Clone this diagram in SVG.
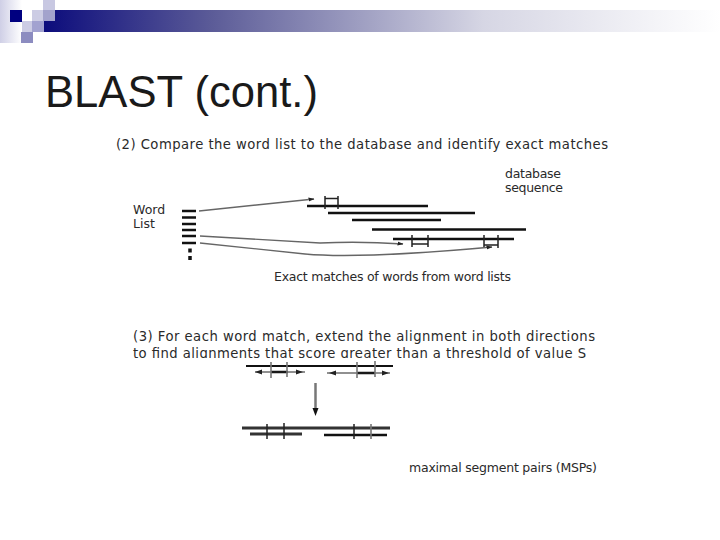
<svg xmlns="http://www.w3.org/2000/svg" width="720" height="540" viewBox="0 0 720 540">
<style>
text{font-family:"DejaVu Sans","Liberation Sans",sans-serif;font-size:12.5px;fill:#2a2a2a}
.l{font-size:13.2px}
.k{stroke:#111;stroke-width:2.5;fill:none}
.t{stroke:#222;stroke-width:1.5;fill:none}
.a{stroke:#666;stroke-width:1.4;fill:none}
.g{stroke:#777;stroke-width:1.6;fill:none}
</style>
<defs>
<linearGradient id="bar" x1="0" x2="1" y1="0" y2="0"><stop offset="0" stop-color="#0c0c7c"/><stop offset=".25" stop-color="#5c5c98"/><stop offset=".65" stop-color="#d6d6e4"/><stop offset="1" stop-color="#fff"/></linearGradient>
<linearGradient id="side" x1="0" x2="1" y1="0" y2="0"><stop offset="0" stop-color="#cfcfe6"/><stop offset="1" stop-color="#fff"/></linearGradient>
<marker id="ah" markerUnits="userSpaceOnUse" markerWidth="6" markerHeight="5" refX="5.500" refY="2.500" orient="auto"><path d="M0 0.500L6 2.500L0 4.500z" fill="#222"/></marker>
</defs>
<rect width="720" height="540" fill="#fff"/>
<g id="decor">
<rect x="44" y="10" width="676" height="22" fill="url(#bar)"/>
<rect x="0" y="0" width="22" height="43" fill="url(#side)"/>
<rect x="10" y="10" width="12" height="12" fill="#000080"/>
<rect x="43" y="0" width="12" height="10" fill="#c8c8e2"/>
<rect x="32" y="10" width="11" height="11" fill="#ccccE4"/>
<rect x="43" y="10" width="12" height="11" fill="#a2a2cc"/>
<rect x="22" y="21" width="10" height="11" fill="#ccccE4"/>
<rect x="32" y="21" width="12" height="11" fill="#a2a2d0"/>
<rect x="21" y="32" width="12" height="11" fill="#8c8cc0"/>
</g>
<text id="title" x="45" y="107" style="font-family:'Liberation Sans',sans-serif;font-size:43.6px;fill:#1a1a1a">BLAST (cont.)</text>
<text class="l" x="116" y="149" textLength="492">(2) Compare the word list to the database and identify exact matches</text>
<text x="505" y="178" textLength="56">database</text>
<text x="505" y="192" textLength="58">sequence</text>
<text x="133" y="214">Word</text>
<text x="133" y="228">List</text>
<text x="274" y="281" textLength="237">Exact matches of words from word lists</text>
<text class="l" x="133" y="341" textLength="462">(3) For each word match, extend the alignment in both directions</text>
<text class="l" x="133" y="358" textLength="453">to find alignments that score greater than a threshold of value S</text>
<rect x="130" y="358" width="470" height="8" fill="#fff"/>
<text x="409" y="472" textLength="188">maximal segment pairs (MSPs)</text>
<g id="word-list" class="k">
<path d="M182 211H196M182 217.500H196M182 224H196M182 230H196M182 236H196M182 243H196"/>
<path d="M190 248.500V252.500M190 256V260" style="stroke-width:3.500"/>
</g>
<g id="database">
<path class="k" d="M307 206H428M328 213H475M352 220H441M372 229.500H526M393 239H514"/>
<path class="t" d="M325 196V209M338 196V209M325 198.500H338M412 235V247M428 235V247M412 244H428M484 235V248M498 235V248M484 245H498"/>
</g>
<g id="connectors">
<path class="a" d="M199 211L314 199" marker-end="url(#ah)"/>
<path class="a" d="M200 236L320 243Q360 241 403 244" marker-end="url(#ah)"/>
<path class="a" d="M200 243L305 254Q360 259 492 247" marker-end="url(#ah)"/>
<path class="g" style="stroke-width:2.500" d="M315.500 383V409"/>
<path d="M312.500 408H318.500L315.500 416z" fill="#111"/>
</g>
<g id="extension">
<path class="k" style="stroke-width:2" d="M246 366H393"/>
<path class="k" d="M271 372H288M357 373H375"/>
<path class="t" style="stroke-width:1.100" d="M255 372H305M327 373H390"/>
<path d="M255 372L262 369.500V374.500zM303 372L296 369.500V374.500zM329 373L336 370.500V375.500zM389 373L382 370.500V375.500z" fill="#222"/>
<path class="g" d="M271 362V378M287 362V377M375 361V377M357 362V378"/>
</g>
<g id="msps">
<path class="k" style="stroke:#333;stroke-width:3" d="M242 428H390"/>
<path class="k" style="stroke:#333;stroke-width:3" d="M250 434H302"/>
<path class="k" d="M324 435H387"/>
<path class="t" d="M267 424V439M284 423V439M354 424V439"/>
<path class="g" d="M371 424V439"/>
</g>
</svg>
